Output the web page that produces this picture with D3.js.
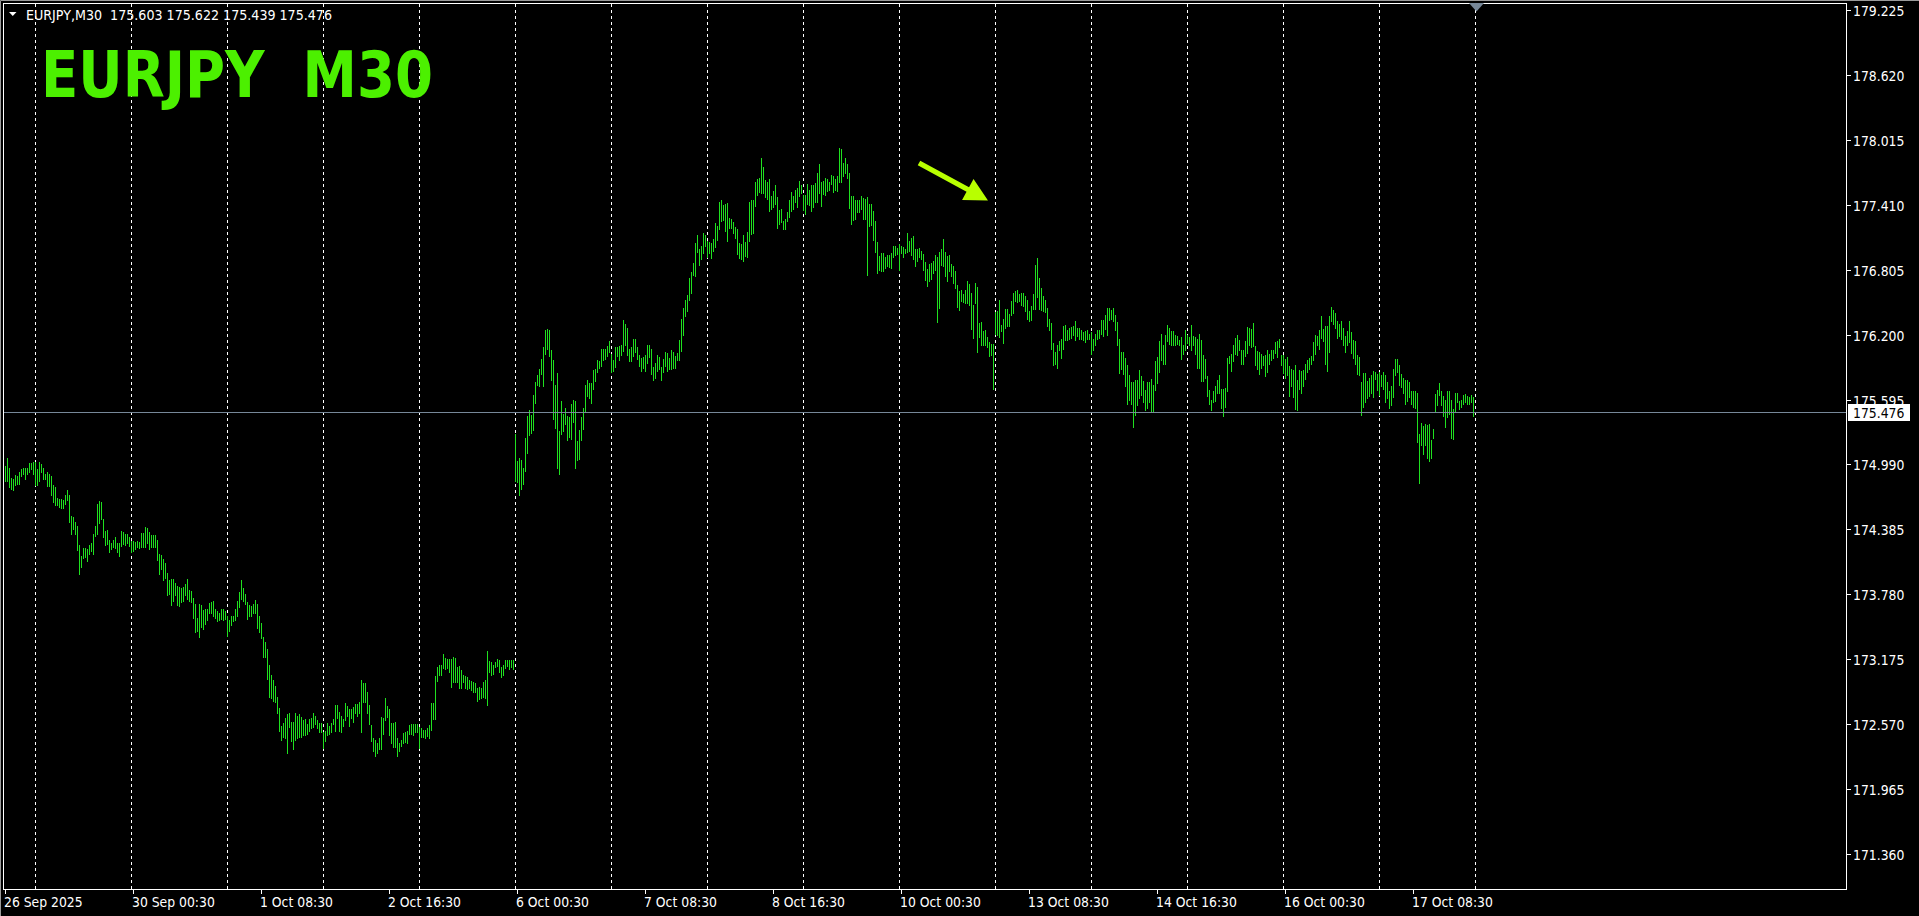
<!DOCTYPE html>
<html><head><meta charset="utf-8">
<script src="https://cdn.jsdelivr.net/npm/d3@7"></script>
<style>html,body{margin:0;padding:0;background:#000;overflow:hidden}</style>
</head><body>
<svg id="chart" width="1919" height="916"></svg>
<script>
// ---------------- DATA ----------------
const symbol = "EURJPY";
const timeframe = "M30";
const lastBarOHLC = [175.603, 175.622, 175.439, 175.476];
const currentPrice = 175.476;
const firstBarTime = "2025-09-26 16:30";

const highs = [
// 26 Sep
174.98,175.05,174.96,174.86,174.85,174.89,174.88,174.92,174.95,174.96,174.96,174.96,175.00,175.00,175.01,
// 29 Sep
175.01,174.95,175.01,174.99,174.96,174.90,174.92,174.90,174.88,174.80,174.78,174.68,
174.67,174.67,174.66,174.71,174.75,174.71,174.51,174.50,174.45,174.42,174.24,174.14,
174.21,174.21,174.20,174.24,174.26,174.34,174.42,174.62,174.65,174.64,174.48,174.37,
174.38,174.29,174.26,174.29,174.31,174.26,174.26,174.37,174.36,174.34,174.34,174.31,
// 30 Sep
174.28,174.28,174.27,174.28,174.27,174.35,174.35,174.41,174.40,174.36,174.33,174.33,
174.33,174.29,174.16,174.15,174.11,174.07,173.98,173.91,173.92,173.92,173.89,173.86,
173.85,173.84,173.85,173.88,173.92,173.82,173.81,173.75,173.69,173.56,173.69,173.68,
173.63,173.64,173.64,173.70,173.71,173.72,173.64,173.62,173.61,173.64,173.64,173.62,
// 1 Oct
173.58,173.54,173.58,173.58,173.64,173.72,173.80,173.91,173.84,173.78,173.71,173.68,
173.67,173.69,173.73,173.69,173.58,173.51,173.38,173.34,173.27,173.12,173.03,172.98,
172.93,172.82,172.72,172.55,172.58,172.63,172.66,172.67,172.59,172.59,172.67,172.65,
172.66,172.64,172.61,172.62,172.57,172.62,172.63,172.67,172.65,172.61,172.58,172.58,
// 2 Oct
172.50,172.51,172.58,172.55,172.58,172.62,172.75,172.75,172.68,172.65,172.62,172.77,
172.74,172.71,172.71,172.73,172.76,172.76,172.78,172.98,172.95,172.95,172.87,172.75,
172.56,172.44,172.42,172.39,172.44,172.64,172.63,172.81,172.74,172.71,172.58,172.58,
172.59,172.44,172.39,172.42,172.49,172.50,172.51,172.56,172.57,172.57,172.57,172.57,
// 3 Oct
172.54,172.53,172.52,172.52,172.53,172.56,172.77,172.77,173.02,173.10,173.12,173.12,
173.22,173.19,173.18,173.18,173.18,173.20,173.19,173.10,173.11,173.07,173.03,173.02,
173.01,172.98,172.97,172.96,172.95,172.91,172.92,172.91,172.96,172.98,173.25,173.16,
173.15,173.12,173.15,173.18,173.17,173.10,173.12,173.17,173.17,173.17,173.17,173.17,
// 6 Oct
175.27,175.02,175.05,175.03,174.96,175.24,175.44,175.50,175.45,175.64,175.76,175.82,
175.88,175.97,176.08,176.24,176.25,176.24,176.06,175.96,175.73,175.84,175.30,175.58,
175.46,175.52,175.44,175.43,175.55,175.59,175.58,175.21,175.31,175.43,175.52,175.73,
175.78,175.75,175.75,175.87,175.88,175.96,175.95,176.07,176.07,176.07,176.09,176.14,
// 7 Oct
176.02,175.96,176.08,176.08,176.09,176.10,176.34,176.30,176.26,176.07,176.08,176.16,
176.16,176.08,176.01,175.98,175.99,176.01,176.10,176.10,176.07,175.90,175.94,176.01,
175.99,175.90,175.97,176.04,176.03,175.98,176.06,176.04,176.00,176.03,176.15,176.35,
176.45,176.52,176.57,176.73,176.78,176.87,177.05,177.13,177.00,177.03,177.15,177.13,
// 8 Oct
177.07,177.06,177.05,177.09,177.24,177.21,177.44,177.45,177.41,177.42,177.43,177.29,
177.28,177.25,177.20,177.18,177.05,177.04,177.13,177.06,177.16,177.44,177.45,177.45,
177.62,177.65,177.66,177.85,177.76,177.64,177.62,177.65,177.49,177.54,177.59,177.48,
177.36,177.37,177.26,177.28,177.34,177.45,177.53,177.49,177.55,177.57,177.63,177.59,
// 9 Oct
177.50,177.50,177.60,177.55,177.59,177.59,177.61,177.71,177.79,177.62,177.63,177.66,
177.65,177.62,177.69,177.68,177.65,177.68,177.94,177.93,177.80,177.85,177.79,177.71,
177.49,177.49,177.45,177.45,177.45,177.49,177.47,177.46,177.48,177.42,177.42,177.35,
177.26,177.06,176.93,176.96,176.96,176.92,176.94,176.94,176.96,177.03,177.03,177.01,
// 10 Oct
177.04,177.03,177.02,177.00,177.15,177.07,177.10,177.12,177.00,177.00,177.01,176.98,
176.95,176.88,176.81,176.86,176.87,176.89,176.94,176.92,176.97,177.00,177.09,176.97,
176.93,176.94,176.86,176.84,176.79,176.66,176.61,176.62,176.58,176.62,176.70,176.67,
176.59,176.48,176.68,176.64,176.31,176.32,176.23,176.24,176.18,176.13,176.11,176.11,
// 13 Oct
176.41,176.42,176.52,176.29,176.35,176.44,176.44,176.39,176.51,176.59,176.61,176.62,
176.58,176.59,176.59,176.56,176.52,176.42,176.47,176.58,176.85,176.91,176.73,176.63,
176.56,176.52,176.45,176.35,176.31,176.12,176.04,176.10,176.14,176.16,176.28,176.29,
176.24,176.26,176.27,176.28,176.33,176.26,176.26,176.24,176.22,176.23,176.24,176.21,
// 14 Oct
176.22,176.16,176.21,176.24,176.24,176.34,176.34,176.38,176.45,176.45,176.43,176.45,
176.38,176.32,176.16,176.04,176.04,175.98,175.92,175.82,175.76,175.76,175.78,175.78,
175.87,175.81,175.77,175.68,175.76,175.76,175.79,175.73,175.95,175.99,176.14,176.21,
176.10,176.20,176.29,176.26,176.23,176.23,176.20,176.19,176.15,176.18,176.10,176.24,
// 15 Oct
176.20,176.18,176.29,176.19,176.18,176.16,176.21,176.15,176.01,175.97,175.81,175.68,
175.59,175.67,175.72,175.78,175.82,175.69,175.69,175.70,175.98,176.00,176.02,176.10,
176.17,176.20,176.15,176.06,176.06,176.14,176.27,176.26,176.25,176.31,176.09,176.05,
176.04,176.02,176.00,176.01,176.06,176.02,176.06,176.06,176.13,176.14,176.16,176.01,
// 16 Oct
176.01,175.97,175.99,175.91,175.88,175.87,175.92,175.78,175.87,175.86,175.87,175.93,
175.96,175.98,176.00,176.13,176.20,176.19,176.24,176.37,176.25,176.28,176.28,176.37,
176.46,176.43,176.40,176.33,176.30,176.33,176.26,176.19,176.23,176.33,176.22,176.15,
176.14,176.01,175.99,175.76,175.84,175.84,175.77,175.80,175.82,175.86,175.85,175.83,
// 17 Oct
175.85,175.82,175.85,175.82,175.76,175.67,175.72,175.88,175.97,175.97,175.92,175.83,
175.80,175.78,175.78,175.76,175.67,175.67,175.67,175.66,175.27,175.38,175.35,175.37,
175.36,175.37,175.22,175.32,175.65,175.68,175.75,175.67,175.63,175.59,175.67,175.67,
175.59,175.51,175.66,175.66,175.58,175.59,175.64,175.65,175.63,175.62,175.64,175.622
];

const lows = [
// 26 Sep
174.84,174.84,174.78,174.76,174.75,174.80,174.81,174.81,174.88,174.90,174.85,174.90,174.92,174.95,174.90,
// 29 Sep
174.80,174.80,174.84,174.92,174.85,174.85,174.79,174.79,174.71,174.64,174.61,174.61,
174.59,174.58,174.58,174.62,174.66,174.45,174.34,174.39,174.34,174.19,173.97,174.03,
174.12,174.13,174.09,174.16,174.18,174.16,174.32,174.34,174.44,174.48,174.31,174.24,
174.25,174.17,174.20,174.22,174.21,174.17,174.14,174.23,174.25,174.24,174.26,174.23,
// 30 Sep
174.17,174.18,174.20,174.22,174.21,174.22,174.22,174.22,174.26,174.20,174.22,174.22,
174.22,174.10,173.97,174.02,173.91,173.93,173.77,173.78,173.68,173.72,173.77,173.68,
173.67,173.71,173.72,173.77,173.74,173.72,173.71,173.56,173.43,173.44,173.38,173.48,
173.46,173.50,173.54,173.61,173.61,173.58,173.56,173.53,173.54,173.55,173.54,173.55,
// 1 Oct
173.39,173.44,173.49,173.53,173.54,173.58,173.66,173.74,173.72,173.69,173.55,173.58,
173.58,173.61,173.61,173.47,173.43,173.37,173.20,173.20,172.99,172.82,172.81,172.79,
172.78,172.67,172.51,172.42,172.45,172.44,172.30,172.54,172.41,172.34,172.42,172.44,
172.45,172.45,172.47,172.47,172.48,172.51,172.53,172.54,172.57,172.53,172.50,172.50,
// 2 Oct
172.35,172.41,172.47,172.48,172.50,172.57,172.51,172.63,172.51,172.50,172.55,172.61,
172.65,172.55,172.63,172.59,172.67,172.65,172.67,172.50,172.78,172.78,172.67,172.57,
172.41,172.32,172.27,172.30,172.34,172.34,172.48,172.61,172.64,172.47,172.39,172.36,
172.36,172.27,172.32,172.37,172.39,172.40,172.39,172.48,172.48,172.47,172.50,172.50,
// 3 Oct
172.35,172.45,172.45,172.44,172.46,172.44,172.52,172.62,172.62,172.97,173.03,173.03,
173.09,173.08,173.09,173.06,172.92,172.96,172.96,172.96,172.91,172.91,172.96,172.91,
172.90,172.91,172.89,172.87,172.87,172.79,172.80,172.81,172.82,172.81,172.75,173.06,
173.03,173.04,173.10,173.11,173.06,173.01,173.03,173.09,173.11,173.08,173.10,173.08,
// 6 Oct
174.84,174.83,174.71,174.76,174.81,174.93,175.10,175.26,175.28,175.31,175.56,175.73,
175.72,175.83,175.72,176.02,176.07,176.00,175.78,175.41,175.33,174.96,174.90,175.27,
175.30,175.37,175.22,175.25,175.23,175.39,174.96,175.03,175.04,175.22,175.32,175.48,
175.63,175.61,175.56,175.69,175.77,175.85,175.89,175.91,175.96,175.97,176.00,176.04,
// 7 Oct
175.85,175.86,175.90,176.00,175.96,176.01,176.05,176.10,176.01,175.95,175.95,176.00,
176.04,175.97,175.91,175.86,175.89,175.86,175.94,175.99,175.83,175.78,175.80,175.86,
175.88,175.78,175.85,175.91,175.86,175.88,175.88,175.89,175.89,175.96,175.96,176.05,
176.20,176.37,176.42,176.52,176.59,176.76,176.75,176.97,176.85,176.90,176.96,177.03,
// 8 Oct
176.92,176.96,176.91,176.98,177.02,177.08,177.18,177.26,177.27,177.17,177.07,177.19,
177.19,177.15,177.10,176.95,176.91,176.90,176.89,176.93,176.92,177.07,177.14,177.15,
177.40,177.50,177.53,177.52,177.52,177.48,177.46,177.35,177.37,177.39,177.42,177.19,
177.23,177.25,177.18,177.18,177.26,177.30,177.35,177.37,177.44,177.39,177.49,177.52,
// 9 Oct
177.36,177.32,177.42,177.41,177.35,177.39,177.44,177.44,177.52,177.40,177.51,177.50,
177.54,177.55,177.60,177.53,177.55,177.54,177.62,177.62,177.68,177.71,177.66,177.38,
177.23,177.27,177.28,177.34,177.34,177.37,177.28,177.28,176.76,177.21,177.22,177.08,
176.97,176.77,176.80,176.79,176.79,176.82,176.84,176.83,176.82,176.92,176.94,176.95,
// 10 Oct
176.80,176.96,176.92,176.96,176.97,176.98,176.94,176.90,176.84,176.89,176.92,176.90,
176.80,176.71,176.65,176.70,176.72,176.77,176.80,176.32,176.45,176.85,176.84,176.75,
176.70,176.79,176.75,176.68,176.63,176.46,176.43,176.51,176.50,176.49,176.49,176.48,
176.25,176.17,176.49,176.04,176.18,176.10,176.10,176.10,176.08,176.00,176.01,175.69,
// 13 Oct
176.21,176.20,176.18,176.23,176.12,176.26,176.28,176.28,176.38,176.40,176.51,176.50,
176.51,176.48,176.47,176.42,176.35,176.33,176.34,176.44,176.44,176.55,176.44,176.43,
176.42,176.41,176.28,176.24,176.07,175.92,175.93,175.89,176.06,175.98,176.07,176.15,
176.15,176.16,176.17,176.20,176.15,176.19,176.16,176.16,176.15,176.13,176.16,176.16,
// 14 Oct
176.02,176.06,176.10,176.16,176.17,176.21,176.19,176.25,176.20,176.34,176.35,176.33,
176.24,176.10,175.84,175.88,175.83,175.72,175.55,175.59,175.55,175.34,175.45,175.54,
175.61,175.64,175.57,175.50,175.52,175.57,175.48,175.49,175.68,175.75,175.85,175.96,
175.93,175.93,176.14,176.11,176.10,176.10,176.10,176.11,176.10,175.97,176.02,176.06,
// 15 Oct
176.12,176.10,176.06,176.10,176.02,175.89,175.89,175.77,175.77,175.80,175.63,175.55,
175.50,175.57,175.58,175.66,175.66,175.52,175.44,175.53,175.67,175.94,175.86,175.95,
176.02,176.01,176.06,175.93,175.93,176.00,176.03,176.10,176.08,176.09,175.92,175.88,
175.83,175.89,175.92,175.81,175.85,175.93,175.96,175.98,176.03,175.99,176.08,175.92,
// 16 Oct
175.84,175.80,175.82,175.63,175.72,175.62,175.51,175.50,175.69,175.66,175.72,175.79,
175.85,175.88,175.93,175.96,176.02,176.10,176.07,176.17,176.14,175.93,175.86,176.04,
176.33,176.30,176.26,176.17,176.19,176.16,176.10,176.04,176.10,176.13,176.03,175.98,
175.93,175.83,175.82,175.45,175.53,175.57,175.61,175.63,175.66,175.62,175.79,175.68,
// 17 Oct
175.64,175.72,175.69,175.57,175.61,175.52,175.54,175.62,175.82,175.85,175.73,175.71,
175.66,175.55,175.58,175.62,175.55,175.53,175.52,175.20,174.82,175.17,175.09,175.17,
175.05,175.02,175.05,175.24,175.49,175.54,175.64,175.54,175.44,175.34,175.43,175.46,
175.24,175.23,175.48,175.57,175.51,175.53,175.55,175.57,175.55,175.55,175.57,175.439
];

const yTicks = [179.225, 178.620, 178.015, 177.410, 176.805, 176.200, 175.595,
                174.990, 174.385, 173.780, 173.175, 172.570, 171.965, 171.360];
const xTickLabels = ["26 Sep 2025", "30 Sep 00:30", "1 Oct 08:30", "2 Oct 16:30",
  "6 Oct 00:30", "7 Oct 08:30", "8 Oct 16:30", "10 Oct 00:30", "13 Oct 08:30",
  "14 Oct 16:30", "16 Oct 00:30", "17 Oct 08:30"];
// annotation arrow, in (bar index, price)
const arrowFrom = [457, 177.80];
const arrowTo = [491.5, 177.45];

// ---------------- STYLE ----------------
const C = {
  bg: "#000000", frame: "#ffffff", grid: "#ffffff", bar: "#1fe01f",
  text: "#ffffff", priceLine: "#778899", title: "#4cf000", arrow: "#b8ff00"
};
const FONT = "'DejaVu Sans Condensed','Liberation Sans',sans-serif";
const frame = {left: 3, top: 3, right: 1846, bottom: 889};

// ---------------- BUILD ----------------
const n = Math.min(highs.length, lows.length);
const parseT = d3.utcParse("%Y-%m-%d %H:%M");
const times = [];
{
  let t = parseT(firstBarTime).getTime();
  while (times.length < n + 1) {
    const d = new Date(t);
    const wd = d.getUTCDay();
    if (wd !== 0 && wd !== 6) times.push(d);
    t += 30 * 60 * 1000;
  }
}
const svg = d3.select("#chart");
svg.append("rect").attr("width", 1919).attr("height", 916).attr("fill", C.bg);

const x = d3.scaleLinear().domain([0, n]).range([5, 5 + 2 * n]);
const y = d3.scaleLinear().domain([yTicks[0], yTicks[yTicks.length - 1]]).range([10, 854]);
const px = i => Math.round(x(i)) + 0.5;

// outer window edge
svg.append("path").attr("d", "M0.5,916 V0.5 H1919").attr("stroke", "#9a9a9a").attr("fill", "none");

// clip for plot
svg.append("clipPath").attr("id", "plot").append("rect")
  .attr("x", frame.left + 1).attr("y", frame.top + 1)
  .attr("width", frame.right - frame.left - 1).attr("height", frame.bottom - frame.top - 1);
const plot = svg.append("g").attr("clip-path", "url(#plot)");

// vertical grid: each trading day start
const gridIdx = times.map((d, i) => (d.getUTCHours() === 0 && d.getUTCMinutes() === 0) ? i : -1).filter(i => i >= 0);
plot.append("g").selectAll("line").data(gridIdx).join("line")
  .attr("x1", d => px(d)).attr("x2", d => px(d))
  .attr("y1", frame.top + 1).attr("y2", frame.bottom)
  .attr("stroke", C.grid).attr("stroke-width", 1).attr("stroke-dasharray", "3,3")
  .attr("shape-rendering", "crispEdges");

// HL bars
const bars = d3.range(n).map(i => ({i, h: highs[i], l: lows[i]}));
plot.append("g").selectAll("rect").data(bars).join("rect")
  .attr("x", d => Math.round(x(d.i)))
  .attr("y", d => Math.round(y(d.h)))
  .attr("width", 1)
  .attr("height", d => Math.max(1, Math.round(y(d.l)) - Math.round(y(d.h)) + 1))
  .attr("fill", C.bar).attr("shape-rendering", "crispEdges");

// current price line
const yp = Math.round(y(currentPrice)) + 0.5;
plot.append("line").attr("x1", frame.left).attr("x2", frame.right).attr("y1", yp).attr("y2", yp)
  .attr("stroke", C.priceLine).attr("stroke-width", 1).attr("shape-rendering", "crispEdges");

// frame
svg.append("rect").attr("x", frame.left + 0.5).attr("y", frame.top + 0.5)
  .attr("width", frame.right - frame.left).attr("height", frame.bottom - frame.top)
  .attr("fill", "none").attr("stroke", C.frame).attr("stroke-width", 1).attr("shape-rendering", "crispEdges");

// y axis
const yAxis = svg.append("g");
yTicks.forEach(v => {
  const yy = Math.round(y(v)) + 0.5;
  yAxis.append("line").attr("x1", frame.right + 1).attr("x2", frame.right + 5)
    .attr("y1", yy).attr("y2", yy).attr("stroke", C.frame).attr("shape-rendering", "crispEdges");
  yAxis.append("text").attr("x", frame.right + 7).attr("y", yy + 5)
    .attr("fill", C.text).attr("font-family", FONT).attr("font-size", "13.8px")
    .text(d3.format(".3f")(v));
});

// x axis labels
const fmtDT = d3.utcFormat("%-d %b %H:%M");
const fmtD = d3.utcFormat("%-d %b %Y");
const xAxis = svg.append("g");
xTickLabels.forEach((lab, k) => {
  let idx = times.findIndex(d => fmtDT(d) === lab);
  if (idx < 0) idx = times.findIndex(d => fmtD(d) === lab);
  if (idx < 0) return;
  const xx = px(idx);
  xAxis.append("line").attr("x1", xx).attr("x2", xx).attr("y1", frame.bottom + 1).attr("y2", frame.bottom + 5)
    .attr("stroke", C.frame).attr("shape-rendering", "crispEdges");
  xAxis.append("text").attr("x", xx - 1.5).attr("y", 907)
    .attr("fill", C.text).attr("font-family", FONT).attr("font-size", "13.8px").text(lab);
});

// header
svg.append("path").attr("d", "M9,12 L16.5,12 L12.75,16 Z").attr("fill", C.text);
svg.append("text").attr("x", 26).attr("y", 20).attr("fill", C.text)
  .attr("font-family", FONT).attr("font-size", "13.8px").attr("xml:space", "preserve")
  .attr("textLength", 306).attr("lengthAdjust", "spacingAndGlyphs")
  .text(symbol + "," + timeframe + "  " + lastBarOHLC.map(d3.format(".3f")).join(" "));

// big title
svg.append("text").attr("x", 41).attr("y", 97).attr("fill", C.title)
  .attr("font-family", FONT).attr("font-weight", "bold").attr("font-size", "64px")
  .attr("textLength", 392).attr("lengthAdjust", "spacingAndGlyphs").attr("xml:space", "preserve")
  .text(symbol + "  " + timeframe);

// arrow annotation
{
  const p0 = [x(arrowFrom[0]), y(arrowFrom[1])];
  const p1 = [x(arrowTo[0]), y(arrowTo[1])];
  const dx = p1[0] - p0[0], dy = p1[1] - p0[1], L = Math.hypot(dx, dy);
  const ux = dx / L, uy = dy / L, nx = -uy, ny = ux;
  const headL = 23, headW = 12, shaftW = 2.6;
  const bx = p1[0] - ux * headL, by = p1[1] - uy * headL;
  const pts = [
    [p0[0] + nx * shaftW, p0[1] + ny * shaftW],
    [bx + nx * shaftW, by + ny * shaftW],
    [bx + nx * headW, by + ny * headW],
    p1,
    [bx - nx * headW, by - ny * headW],
    [bx - nx * shaftW, by - ny * shaftW],
    [p0[0] - nx * shaftW, p0[1] - ny * shaftW]
  ];
  svg.append("polygon").attr("points", pts.map(p => p.join(",")).join(" ")).attr("fill", C.arrow);
}

// chart shift marker
{
  const sx = x(n) + 1.5;
  svg.append("path").attr("d", `M${sx - 7.5},${frame.top} L${sx + 7.5},${frame.top} L${sx},${frame.top + 8.5} Z`)
    .attr("fill", C.priceLine);
}

// current price box (covers part of the nearby tick label, as in the reference)
svg.append("rect").attr("x", frame.right + 2).attr("y", yp - 8.5).attr("width", 62).attr("height", 17)
  .attr("fill", "#ffffff");
svg.append("text").attr("x", frame.right + 7).attr("y", yp + 5)
  .attr("fill", "#000").attr("font-family", FONT).attr("font-size", "13.8px")
  .text(d3.format(".3f")(currentPrice));
</script>
</body></html>
